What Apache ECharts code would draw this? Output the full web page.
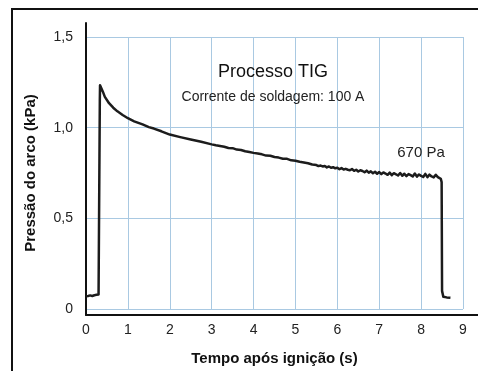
<!DOCTYPE html>
<html>
<head>
<meta charset="utf-8">
<script src="https://cdn.jsdelivr.net/npm/echarts@6/dist/echarts.min.js"></script>
<style>
html,body{margin:0;padding:0;background:#fff;}
#chart{width:478px;height:371px;}
</style>
</head>
<body>
<div id="chart"></div>
<script>
// ---- data ----
var timeS = [0.00,0.05,0.10,0.15,0.20,0.25,0.30,0.32,0.33,0.335,0.40,0.45,0.55,0.65,0.75,0.875,1.00,1.15,1.35,1.50,1.62,1.80,2.00,2.25,2.50,2.75,
  3.0,3.1,3.2,3.3,3.4,3.5,3.6,3.7,3.8,3.9,4.0,4.1,4.2,4.3,4.4,4.5,4.6,4.7,4.8,4.9,5.0,5.1,5.2,5.3,5.4,
  5.50,5.55,5.60,5.65,5.70,5.75,5.80,5.85,5.90,5.95,6.00,6.05,6.10,6.15,6.20,6.25,6.30,6.35,6.40,6.45,
  6.50,6.55,6.60,6.65,6.70,6.75,6.80,6.85,6.90,6.95,7.00,7.05,7.10,7.15,7.20,7.25,7.30,7.35,7.40,7.45,
  7.50,7.55,7.60,7.65,7.70,7.75,7.80,7.85,7.90,7.95,8.00,8.05,8.10,8.15,8.20,8.25,8.30,8.35,8.40,8.44,
  8.47,8.49,8.50,8.53,8.57,8.61,8.65,8.70];
var pressureKPa = [0.070,0.072,0.075,0.072,0.076,0.078,0.080,0.090,1.150,1.234,1.200,1.170,1.135,1.110,1.090,1.070,1.052,1.035,1.018,1.003,0.995,0.980,0.962,0.948,0.935,0.922,
  0.908,0.903,0.899,0.895,0.888,0.887,0.879,0.877,0.870,0.866,0.861,0.857,0.853,0.846,0.845,0.838,0.835,0.829,0.828,0.820,0.818,0.812,0.808,0.804,0.797,
  0.794,0.788,0.791,0.786,0.789,0.781,0.786,0.779,0.782,0.776,0.779,0.771,0.777,0.769,0.773,0.768,0.765,0.772,0.762,0.768,
  0.758,0.765,0.761,0.754,0.763,0.752,0.759,0.749,0.757,0.746,0.755,0.744,0.753,0.747,0.740,0.752,0.738,0.749,0.743,0.736,
  0.750,0.735,0.746,0.733,0.744,0.738,0.731,0.747,0.730,0.742,0.734,0.728,0.745,0.727,0.741,0.731,0.726,0.740,0.727,0.732,
  0.718,0.700,0.100,0.068,0.060,0.064,0.058,0.062];
var xTicks = [0,1,2,3,4,5,6,7,8,9];
var yTicks = [0,0.5,1.0,1.5];
var titleText = 'Processo TIG';
var subtitleText = 'Corrente de soldagem: 100 A';
var noteText = '670 Pa';
var xName = 'Tempo após ignição (s)';
var yName = 'Pressão do arco (kPa)';

var FONT = '"Liberation Sans", Arial, sans-serif';
var chart = echarts.init(document.getElementById('chart'), null, {renderer:'canvas'});
var pts = timeS.map(function(t,i){return [t, pressureKPa[i]];});

chart.setOption({
  animation:false,
  backgroundColor:'#fff',
  grid:[
    {left:86, right:15, top:37, bottom:56},
    {left:86, right:0, top:23, bottom:56}
  ],
  xAxis:[
    {gridIndex:0, type:'value', min:xTicks[0], max:xTicks[xTicks.length-1], interval:1,
     axisLine:{show:false}, axisTick:{show:false},
     axisLabel:{color:'#222', fontFamily:FONT, fontSize:14, margin:14},
     splitLine:{show:true, lineStyle:{color:'#a9c9e2', width:1}},
     name:xName, nameLocation:'middle', nameGap:42,
     nameTextStyle:{color:'#111', fontFamily:FONT, fontSize:15, fontWeight:'bold'}},
    {gridIndex:1, type:'value', min:0, max:1,
     axisLine:{show:true, lineStyle:{color:'#111', width:2}}, axisTick:{show:false},
     axisLabel:{show:false}, splitLine:{show:false}}
  ],
  yAxis:[
    {gridIndex:0, type:'value', min:yTicks[0], max:yTicks[yTicks.length-1], interval:0.5,
     axisLine:{show:false}, axisTick:{show:false},
     axisLabel:{color:'#222', fontFamily:FONT, fontSize:14, margin:13,
       formatter:function(v){return v===0?'0':v.toFixed(1).replace('.',',');}},
     splitLine:{show:true, lineStyle:{color:'#a9c9e2', width:1}},
     name:yName, nameLocation:'middle', nameGap:48,
     nameTextStyle:{color:'#111', fontFamily:FONT, fontSize:15, fontWeight:'bold'}},
    {gridIndex:1, type:'value', min:0, max:1,
     axisLine:{show:true, lineStyle:{color:'#111', width:2}}, axisTick:{show:false},
     axisLabel:{show:false}, splitLine:{show:false}}
  ],
  series:[{
    type:'line', xAxisIndex:0, yAxisIndex:0, data:pts, showSymbol:false,
    lineStyle:{color:'#1c1c1c', width:2.5, join:'round'}, z:5
  }],
  graphic:[
    {type:'rect', shape:{x:12, y:9, width:490, height:400}, style:{fill:'none', stroke:'#111', lineWidth:2}, z:100},
    {type:'text', x:273, y:72, style:{text:titleText, textAlign:'center', textVerticalAlign:'middle', font:'18px '+FONT, fill:'#111'}, z:100},
    {type:'text', x:273, y:97, style:{text:subtitleText, textAlign:'center', textVerticalAlign:'middle', font:'14px '+FONT, fill:'#222'}, z:100},
    {type:'text', x:421, y:153, style:{text:noteText, textAlign:'center', textVerticalAlign:'middle', font:'15px '+FONT, fill:'#222'}, z:100}
  ]
});
</script>
</body>
</html>
